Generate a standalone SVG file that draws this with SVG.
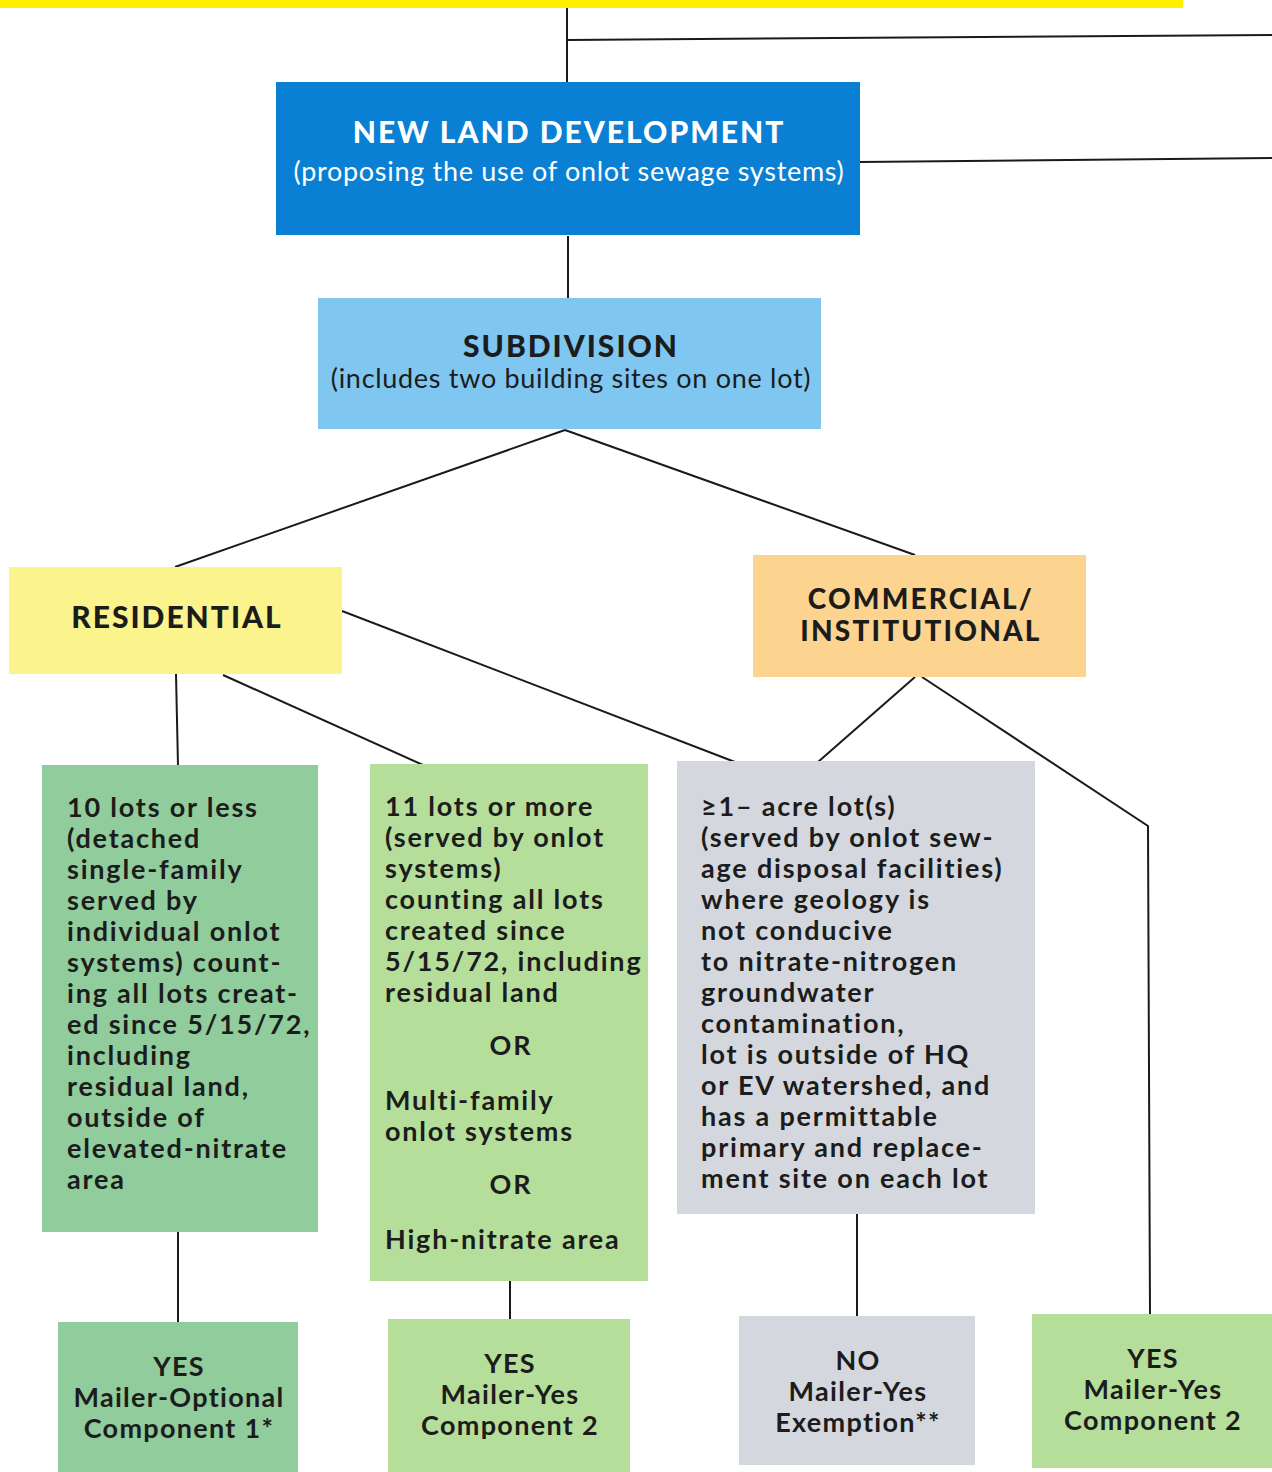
<svg xmlns="http://www.w3.org/2000/svg" width="1272" height="1472" viewBox="0 0 1272 1472">
<style>
.ln{stroke:#1a1a1a;stroke-width:2;fill:none}
.t{font-family:Lato,"Open Sans","Liberation Sans",sans-serif;fill:#1c1c1c;font-weight:700;font-size:27px;letter-spacing:1.8px}
.c{text-anchor:middle}
.b{letter-spacing:1.3px}
.h{font-weight:900;font-size:30px;letter-spacing:2px}
.w{fill:#ffffff}
.r{font-weight:400;font-size:27px;letter-spacing:0.7px}
</style>
<rect x="0" y="0" width="1183" height="8" fill="#fff000"/>
<g id="connectors">
<line class="ln" x1="567" y1="8" x2="567" y2="82"/>
<line class="ln" x1="567" y1="40" x2="1272" y2="35"/>
<line class="ln" x1="860" y1="162" x2="1272" y2="158"/>
<line class="ln" x1="568" y1="236" x2="568" y2="298"/>
<line class="ln" x1="565" y1="430" x2="175" y2="567"/>
<line class="ln" x1="565" y1="430" x2="915" y2="555"/>
<line class="ln" x1="176" y1="674" x2="178" y2="766"/>
<line class="ln" x1="223" y1="675" x2="423" y2="765"/>
<line class="ln" x1="342" y1="611" x2="735" y2="762"/>
<line class="ln" x1="915" y1="677" x2="818" y2="762"/>
<polyline class="ln" points="922,677 1148,826 1150,1315"/>
<line class="ln" x1="178" y1="1232" x2="178" y2="1322"/>
<line class="ln" x1="510" y1="1281" x2="510" y2="1319"/>
<line class="ln" x1="857" y1="1214" x2="857" y2="1316"/>
</g>
<g id="new-land-development">
<rect x="276" y="82" width="584" height="153" fill="#0a80d4"/>
<text class="t h w c" x="569" y="143">NEW LAND DEVELOPMENT</text>
<text class="t r w c" x="569" y="181">(proposing the use of onlot sewage systems)</text>
</g>
<g id="subdivision">
<rect x="318" y="298" width="503" height="131" fill="#7fc6f1"/>
<text class="t h c" x="571" y="357">SUBDIVISION</text>
<text class="t r c" x="571" y="388">(includes two building sites on one lot)</text>
</g>
<g id="residential">
<rect x="9" y="567" width="333" height="107" fill="#fbf48c"/>
<text class="t h c" x="177" y="628">RESIDENTIAL</text>
</g>
<g id="commercial">
<rect x="753" y="555" width="333" height="122" fill="#fcd48f"/>
<text class="t h c" x="921" y="609" style="font-size:28px;letter-spacing:2.2px">COMMERCIAL/</text>
<text class="t h c" x="921" y="641" style="font-size:28px;letter-spacing:2.2px">INSTITUTIONAL</text>
</g>
<g id="ten-lots">
<rect x="42" y="765" width="276" height="467" fill="#90cc9c"/>
<text class="t" x="67" y="817">10 lots or less</text>
<text class="t" x="67" y="848">(detached</text>
<text class="t" x="67" y="879">single-family</text>
<text class="t" x="67" y="910">served by</text>
<text class="t" x="67" y="941">individual onlot</text>
<text class="t" x="67" y="972">systems) count-</text>
<text class="t" x="67" y="1003">ing all lots creat-</text>
<text class="t" x="67" y="1034">ed since 5/15/72,</text>
<text class="t" x="67" y="1065">including</text>
<text class="t" x="67" y="1096">residual land,</text>
<text class="t" x="67" y="1127">outside of</text>
<text class="t" x="67" y="1158">elevated-nitrate</text>
<text class="t" x="67" y="1189">area</text>
</g>
<g id="eleven-lots">
<rect x="370" y="764" width="278" height="517" fill="#b6de9b"/>
<text class="t" x="385" y="816">11 lots or more</text>
<text class="t" x="385" y="847">(served by onlot</text>
<text class="t" x="385" y="878">systems)</text>
<text class="t" x="385" y="909">counting all lots</text>
<text class="t" x="385" y="940">created since</text>
<text class="t" x="385" y="971">5/15/72, including</text>
<text class="t" x="385" y="1002">residual land</text>
<text class="t c" x="511" y="1055">OR</text>
<text class="t" x="385" y="1110">Multi-family</text>
<text class="t" x="385" y="1141">onlot systems</text>
<text class="t c" x="511" y="1194">OR</text>
<text class="t" x="385" y="1249">High-nitrate area</text>
</g>
<g id="one-acre">
<rect x="677" y="761" width="358" height="453" fill="#d4d8de"/>
<text class="t" x="701" y="816">≥1– acre lot(s)</text>
<text class="t" x="701" y="847">(served by onlot sew-</text>
<text class="t" x="701" y="878">age disposal facilities)</text>
<text class="t" x="701" y="909">where geology is</text>
<text class="t" x="701" y="940">not conducive</text>
<text class="t" x="701" y="971">to nitrate-nitrogen</text>
<text class="t" x="701" y="1002">groundwater</text>
<text class="t" x="701" y="1033">contamination,</text>
<text class="t" x="701" y="1064">lot is outside of HQ</text>
<text class="t" x="701" y="1095">or EV watershed, and</text>
<text class="t" x="701" y="1126">has a permittable</text>
<text class="t" x="701" y="1157">primary and replace-</text>
<text class="t" x="701" y="1188">ment site on each lot</text>
</g>
<g id="result-1">
<rect x="58" y="1322" width="240" height="150" fill="#90cc9c"/>
<text class="t b c" x="179" y="1376">YES</text>
<text class="t b c" x="179" y="1407">Mailer-Optional</text>
<text class="t b c" x="179" y="1438">Component 1*</text>
</g>
<g id="result-2">
<rect x="388" y="1319" width="242" height="153" fill="#b6de9b"/>
<text class="t b c" x="510" y="1373">YES</text>
<text class="t b c" x="510" y="1404">Mailer-Yes</text>
<text class="t b c" x="510" y="1435">Component 2</text>
</g>
<g id="result-3">
<rect x="739" y="1316" width="236" height="149" fill="#d4d8de"/>
<text class="t b c" x="858" y="1370">NO</text>
<text class="t b c" x="858" y="1401">Mailer-Yes</text>
<text class="t b c" x="858" y="1432">Exemption**</text>
</g>
<g id="result-4">
<rect x="1032" y="1314" width="240" height="154" fill="#b6de9b"/>
<text class="t b c" x="1153" y="1368">YES</text>
<text class="t b c" x="1153" y="1399">Mailer-Yes</text>
<text class="t b c" x="1153" y="1430">Component 2</text>
</g>
</svg>
